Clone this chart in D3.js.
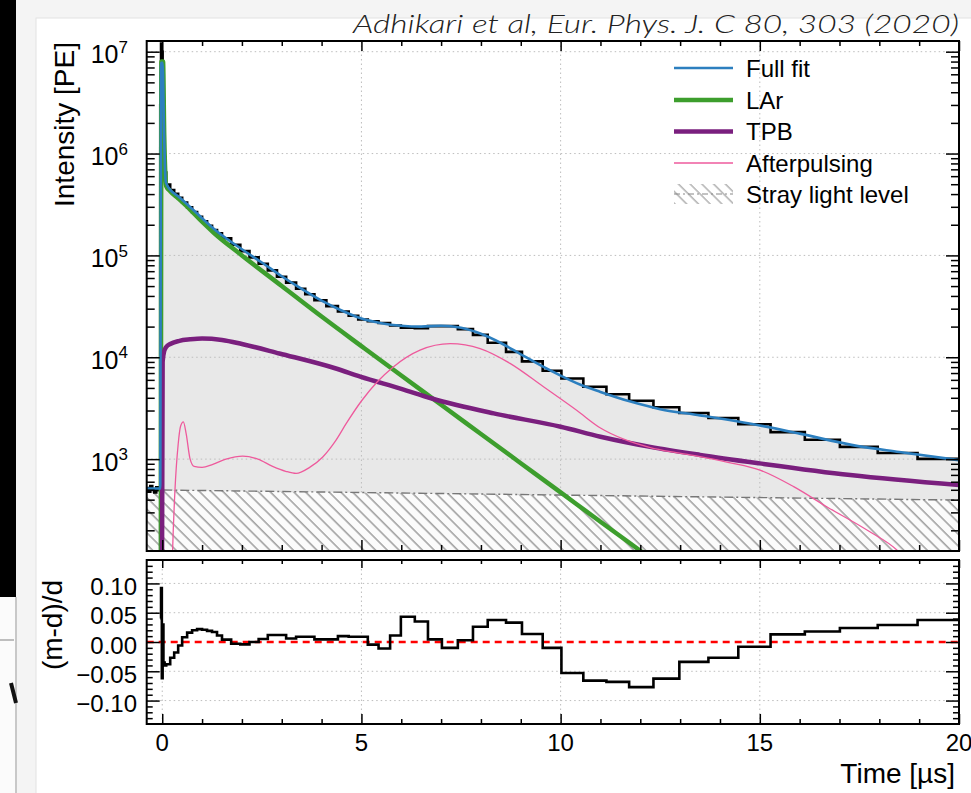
<!DOCTYPE html>
<html><head><meta charset="utf-8">
<script src="https://cdn.jsdelivr.net/npm/d3@7"></script>
<style>
body{margin:0;background:#f4f4f4;}
svg{display:block;}
text{font-family:"Liberation Sans",Arial,Helvetica,sans-serif;}
</style>
</head><body>
<svg id="c" width="971" height="793"></svg>
<script>
// ---------------- DATA ----------------
// histogram bin edges [µs] (variable binning)
const binEdges = [-0.4,-0.35,-0.3,-0.25,-0.2,-0.15,-0.1,-0.05,-0.03,-0.01,0.01,0.03,0.06,0.1,
  0.2,0.3,0.4,0.5,0.625,0.75,0.875,1.0,1.125,1.25,1.375,1.5,
  1.73,1.96,2.19,2.42,2.65,2.88,3.11,3.36,3.59,3.82,
  4.12,4.41,4.68,4.92,5.16,5.43,5.72,5.99,6.34,6.67,7.02,7.42,7.80,8.17,8.63,9.03,9.55,
  10.02,10.57,11.15,11.72,12.33,12.98,13.71,14.46,15.27,16.13,17.01,17.96,18.96,20.0];
// measured intensity per bin [PE]
const dataCounts = [520,480,545,505,470,530,495,
  3.0e6,1.2e7,1.0e7,4.0e6,1.3e6,6.5e5,
  496600,437500,401800,367300,
  331100,296500,266100,239300,215800,195400,177400,164400,
  147200,127400,110200,95700,82800,71300,61800,54100,47100,41600,
  36300,31800,28100,25600,23500,22600,21700,20500,19500,19300,20200,20200,18900,16600,13900,
  11300,9120,7360,6180,5130,4340,3740,3230,2840,2530,2200,1840,1550,1320,1150,1005];
// residuals (m-d)/d per bin
const residuals = [null,null,null,null,null,null,null,
  0.04,0.092,-0.062,0.03,-0.035,-0.04,
  -0.038,-0.027,-0.018,-0.006,
  0.008,0.016,0.020,0.022,0.021,0.019,0.017,0.011,
  0.004,-0.003,-0.004,0.0,0.005,0.012,0.012,0.006,0.009,0.009,
  0.0045,0.0045,0.010,0.009,0.009,-0.0045,-0.011,0.011,0.043,0.035,0.0045,-0.010,0.003,0.026,0.0375,
  0.033,0.0136,-0.010,-0.053,-0.066,-0.068,-0.077,-0.0625,-0.034,-0.027,-0.008,0.013,0.018,0.024,0.029,0.0375];
// fit curves [t µs, intensity PE]
const fullFit = [[-0.4,515],[-0.05,515],[-0.03,7.8e6],[0.01,7.8e6],[0.04,2.0e6],[0.07,7.0e5],[0.09,5.25e5],
  [0.2,4.42e5],[0.4,3.80e5],[0.7,2.99e5],[1.0,2.32e5],[1.3,1.82e5],[2.0,1.15e5],[2.5,8.51e4],[3.0,6.24e4],
  [3.46,4.79e4],[4.0,3.59e4],[4.5,2.88e4],[5.0,2.40e4],[5.5,2.16e4],[6.0,2.04e4],[6.5,2.00e4],[7.0,2.04e4],
  [7.5,1.95e4],[8.0,1.70e4],[8.5,1.38e4],[9.0,1.07e4],[9.5,8320],[10.0,6610],[10.5,5370],[11.0,4570],
  [11.8,3630],[12.5,3090],[13.5,2690],[15.0,2140],[16.0,1780],[17.3,1380],[18.5,1175],[20.0,977]];
const larComp = [[-0.035,100],[-0.02,8.0e6],[0.02,8.0e6],[0.05,1.5e6],[0.08,6.0e5],[0.1,4.79e5],[0.2,4.27e5],
  [0.4,3.63e5],[0.7,2.82e5],[1.0,2.14e5],[1.3,1.66e5],[2.0,1.0e5],[3.0,5.01e4],[4.0,2.51e4],[5.08,1.22e4],
  [6.0,6620],[7.0,3420],[8.0,1766],[9.0,912],[10.0,471],[11.0,243],[12.0,126],[12.5,90]];
const tpbComp = [[-0.005,100],[0.01,9.0e3],[0.05,1.15e4],[0.1,1.26e4],[0.2,1.35e4],[0.43,1.45e4],[0.7,1.50e4],
  [1.0,1.53e4],[1.5,1.48e4],[2.0,1.35e4],[2.94,1.09e4],[4.36,7760],[4.97,6460],[6.0,4900],[6.77,3940],
  [8.32,2810],[10.0,2080],[11.0,1660],[12.25,1320],[13.5,1100],[15.0,908],[17.27,697],[20.0,556]];
const afterpulse = [[0.2,10],[0.26,125],[0.32,500],[0.40,1400],[0.46,2100],[0.53,2320],[0.6,1780],[0.7,1000],
  [0.8,850],[1.0,830],[1.27,890],[1.6,1000],[2.02,1070],[2.4,1000],[2.77,850],[3.1,760],[3.36,724],
  [3.7,830],[4.03,1050],[4.35,1510],[4.62,2240],[5.0,3720],[5.4,5750],[5.8,8040],[6.47,11750],[7.23,13610],
  [7.98,12160],[8.73,8710],[9.57,5130],[10.41,3000],[11.0,2020],[11.6,1560],[12.25,1300],[12.9,1160],
  [13.5,1060],[14.2,930],[15.02,776],[15.85,537],[16.69,339],[17.7,200],[18.49,123],[18.8,90]];
const strayLevel = [[-0.4,500],[20,396]];
// axis ticks / labels
const xTicks = [0,5,10,15,20];
const yDecades = [1e3,1e4,1e5,1e6,1e7];
const yDecadeExp = ["3","4","5","6","7"];
const rTicks = [0.10,0.05,0,-0.05,-0.10];
const rTickLabels = ["0.10","0.05","0.00","\u22120.05","\u22120.10"];
const legendItems = ["Full fit","LAr","TPB","Afterpulsing","Stray light level"];
const colors = {fit:"#2c7fbf", lar:"#3d9e2d", tpb:"#7a1f7e", ap:"#ee5a9c"};

// ---------------- LAYOUT ----------------
const svg = d3.select("#c");
const X0=146.7, X1=959, T0=41, T1=551, B0=560, B1=724;
const x = d3.scaleLinear().domain([-0.39,20]).range([X0,X1]);
const y = d3.scaleLog().domain([125.3,1.2735e7]).range([T1,T0]);
const yr = d3.scaleLinear().domain([-0.14,0.14]).range([B1,B0]);

// page background artefacts (screenshot framing)
svg.append("rect").attr("x",0).attr("y",0).attr("width",971).attr("height",793).attr("fill","#f4f4f4");
svg.append("rect").attr("x",36).attr("y",18).attr("width",940).attr("height",780).attr("fill","#fff").attr("stroke","#e2e2e2");
svg.append("rect").attr("x",0).attr("y",597).attr("width",17).attr("height",196).attr("fill","#fbfbfb");
svg.append("line").attr("x1",16).attr("x2",16).attr("y1",597).attr("y2",793).attr("stroke","#c8c8c8").attr("stroke-width",2);
svg.append("rect").attr("x",0).attr("y",0).attr("width",16).attr("height",597).attr("fill","#000");
svg.append("line").attr("x1",0).attr("x2",14).attr("y1",640).attr("y2",640).attr("stroke","#aaa").attr("stroke-width",1.5);
svg.append("line").attr("x1",11).attr("x2",16).attr("y1",683).attr("y2",703).attr("stroke","#111").attr("stroke-width",4);

const defs = svg.append("defs");
defs.append("clipPath").attr("id","clipT").append("rect").attr("x",X0).attr("y",T0).attr("width",X1-X0).attr("height",T1-T0);
defs.append("clipPath").attr("id","clipB").append("rect").attr("x",X0).attr("y",B0).attr("width",X1-X0).attr("height",B1-B0);
const pat = defs.append("pattern").attr("id","hatch").attr("patternUnits","userSpaceOnUse")
  .attr("width",8.3).attr("height",8.3).attr("patternTransform","rotate(-45)");
pat.append("line").attr("x1",1).attr("x2",1).attr("y1",-1).attr("y2",10).attr("stroke","#7a7a7a").attr("stroke-width",1.1);

// white plot areas
svg.append("rect").attr("x",X0).attr("y",T0).attr("width",X1-X0).attr("height",T1-T0).attr("fill","#fff");
svg.append("rect").attr("x",X0).attr("y",B0).attr("width",X1-X0).attr("height",B1-B0).attr("fill","#fff");

// ---------------- TOP PANEL ----------------
const gTop = svg.append("g").attr("clip-path","url(#clipT)");
const histPts = binEdges.map((e,i)=>({t:e, v: dataCounts[Math.min(i,dataCounts.length-1)]}));
gTop.append("path").datum(histPts)
  .attr("d", d3.area().x(d=>x(d.t)).y0(T1).y1(d=>y(d.v)).curve(d3.curveStepAfter))
  .attr("fill","#e8e8e8");
// grid
const gridT = gTop.append("g").attr("stroke","#bdbdbd").attr("stroke-width",1).attr("stroke-dasharray","1.5,3");
xTicks.forEach(t=>gridT.append("line").attr("x1",x(t)).attr("x2",x(t)).attr("y1",T0).attr("y2",T1));
yDecades.forEach(v=>gridT.append("line").attr("x1",X0).attr("x2",X1).attr("y1",y(v)).attr("y2",y(v)));
// stray light
const strayArea = d3.area().x(d=>x(d[0])).y0(T1).y1(d=>y(d[1]));
gTop.append("path").datum(strayLevel).attr("d",strayArea).attr("fill","#fbfbfb");
gTop.append("path").datum(strayLevel).attr("d",strayArea).attr("fill","url(#hatch)");
gTop.append("path").datum(strayLevel).attr("d",d3.line().x(d=>x(d[0])).y(d=>y(d[1])))
  .attr("fill","none").attr("stroke","#777").attr("stroke-width",1.4).attr("stroke-dasharray","9,3,2,3");
// data histogram
gTop.append("path").datum(histPts)
  .attr("d", d3.line().x(d=>x(d.t)).y(d=>y(d.v)).curve(d3.curveStepAfter))
  .attr("fill","none").attr("stroke","#000").attr("stroke-width",2.6);
const curve = d3.line().x(d=>x(d[0])).y(d=>y(d[1])).curve(d3.curveMonotoneX);
gTop.append("path").datum(larComp).attr("d",curve).attr("fill","none").attr("stroke",colors.lar).attr("stroke-width",4.5);
gTop.append("path").datum(tpbComp).attr("d",curve).attr("fill","none").attr("stroke",colors.tpb).attr("stroke-width",4.5);
gTop.append("path").datum(afterpulse).attr("d",curve).attr("fill","none").attr("stroke",colors.ap).attr("stroke-width",1.3);
gTop.append("path").datum(fullFit).attr("d",curve).attr("fill","none").attr("stroke",colors.fit).attr("stroke-width",2.6);

// ---------------- BOTTOM PANEL ----------------
const gBot = svg.append("g").attr("clip-path","url(#clipB)");
const gridB = gBot.append("g").attr("stroke","#bdbdbd").attr("stroke-width",1).attr("stroke-dasharray","1.5,3");
xTicks.forEach(t=>gridB.append("line").attr("x1",x(t)).attr("x2",x(t)).attr("y1",B0).attr("y2",B1));
rTicks.filter(v=>v!==0).forEach(v=>gridB.append("line").attr("x1",X0).attr("x2",X1).attr("y1",yr(v)).attr("y2",yr(v)));
gBot.append("line").attr("x1",X0).attr("x2",X1).attr("y1",yr(0)).attr("y2",yr(0))
  .attr("stroke","#ff0000").attr("stroke-width",2.6).attr("stroke-dasharray","7,5");
const resPts = binEdges.map((e,i)=>({t:e, r: residuals[Math.min(i,residuals.length-1)]}));
gBot.append("path").datum(resPts)
  .attr("d", d3.line().defined(d=>d.r!==null).x(d=>x(d.t)).y(d=>yr(d.r)).curve(d3.curveStepAfter))
  .attr("fill","none").attr("stroke","#000").attr("stroke-width",2.6);

// ---------------- AXES (inward ticks) ----------------
function ticks(transform, axis, vals, size){
  const g = svg.append("g").attr("transform",transform)
    .call(axis.tickValues(vals).tickSize(-size).tickFormat(""));
  g.select(".domain").remove();
  g.selectAll("line").attr("stroke","#000").attr("stroke-width",1.5);
}
const xMinor = d3.range(0,21).filter(t=>t%5!==0);
const yMinor = [];
[100,1e3,1e4,1e5,1e6,1e7].forEach(d=>{for(let m=2;m<=9;m++){const v=m*d; if(v>=125.3&&v<=1.2735e7) yMinor.push(v);}});
const rMinor = d3.range(-13,14).filter(i=>i%5!==0).map(i=>i/100);
// top panel
ticks(`translate(${X0},0)`, d3.axisLeft(y), yDecades, 13);
ticks(`translate(${X0},0)`, d3.axisLeft(y), yMinor, 8);
ticks(`translate(${X1},0)`, d3.axisRight(y), yDecades, 13);
ticks(`translate(${X1},0)`, d3.axisRight(y), yMinor, 8);
ticks(`translate(0,${T0})`, d3.axisTop(x), xTicks, 10);
ticks(`translate(0,${T0})`, d3.axisTop(x), xMinor, 5);
ticks(`translate(0,${T1})`, d3.axisBottom(x), xTicks, 11);
ticks(`translate(0,${T1})`, d3.axisBottom(x), xMinor, 6);
// bottom panel
ticks(`translate(${X0},0)`, d3.axisLeft(yr), rTicks, 13);
ticks(`translate(${X0},0)`, d3.axisLeft(yr), rMinor, 6);
ticks(`translate(${X1},0)`, d3.axisRight(yr), rTicks, 13);
ticks(`translate(${X1},0)`, d3.axisRight(yr), rMinor, 6);
ticks(`translate(0,${B0})`, d3.axisTop(x), xTicks, 8);
ticks(`translate(0,${B0})`, d3.axisTop(x), xMinor, 4);
ticks(`translate(0,${B1})`, d3.axisBottom(x), xTicks, 10);
ticks(`translate(0,${B1})`, d3.axisBottom(x), xMinor, 5);

// frames
svg.append("rect").attr("x",X0).attr("y",T0).attr("width",X1-X0).attr("height",T1-T0).attr("fill","none").attr("stroke","#000").attr("stroke-width",2);
svg.append("rect").attr("x",X0).attr("y",B0).attr("width",X1-X0).attr("height",B1-B0).attr("fill","none").attr("stroke","#000").attr("stroke-width",2);

// tick labels
yDecades.forEach((v,i)=>{
  const t = svg.append("text").attr("x",128).attr("y",y(v)+11.6).attr("text-anchor","end").attr("font-size",25).attr("fill","#000");
  t.append("tspan").text("10");
  t.append("tspan").attr("dy",-10.5).attr("font-size",17).text(yDecadeExp[i]);
});
rTicks.forEach((v,i)=>{
  svg.append("text").attr("x",137).attr("y",yr(v)+11.5).attr("text-anchor","end").attr("font-size",24).attr("fill","#000").text(rTickLabels[i]);
});
xTicks.forEach(t=>{
  svg.append("text").attr("x",x(t)).attr("y",751).attr("text-anchor","middle").attr("font-size",24).attr("fill","#000").text(t);
});
// axis titles
svg.append("text").attr("transform","translate(74,124.5) rotate(-90)").attr("text-anchor","middle").attr("font-size",28).text("Intensity [PE]");
svg.append("text").attr("transform","translate(62,625) rotate(-90)").attr("text-anchor","middle").attr("font-size",28).text("(m-d)/d");
svg.append("text").attr("x",955).attr("y",783).attr("text-anchor","end").attr("font-size",28).text("Time [\u00b5s]");

// legend
const legY = [68,100,131.5,163,194];
const legStyle = [[colors.fit,2.6],[colors.lar,4.5],[colors.tpb,4.5],[colors.ap,1.3]];
legendItems.forEach((name,i)=>{
  const cy = legY[i];
  if(i<4){
    svg.append("line").attr("x1",674).attr("x2",733).attr("y1",cy).attr("y2",cy)
      .attr("stroke",legStyle[i][0]).attr("stroke-width",legStyle[i][1]);
  } else {
    svg.append("rect").attr("x",674).attr("y",cy-10).attr("width",59).attr("height",20).attr("fill","url(#hatch)").attr("opacity",0.8);
    svg.append("line").attr("x1",674).attr("x2",733).attr("y1",cy).attr("y2",cy)
      .attr("stroke","#888").attr("stroke-width",1.2).attr("stroke-dasharray","6,3,2,3");
  }
  svg.append("text").attr("x",746).attr("y",cy+8.6).attr("font-size",24).attr("fill","#000").text(name);
});

// citation
svg.append("text").attr("x",353).attr("y",33)
  .style("font-family","Lato, 'Open Sans', 'DejaVu Sans', sans-serif").attr("font-style","italic").attr("font-weight",300)
  .attr("font-size",25).attr("fill","#222").attr("textLength",606).attr("lengthAdjust","spacingAndGlyphs")
  .text("Adhikari et al, Eur. Phys. J. C 80, 303 (2020)");
</script>
</body></html>
